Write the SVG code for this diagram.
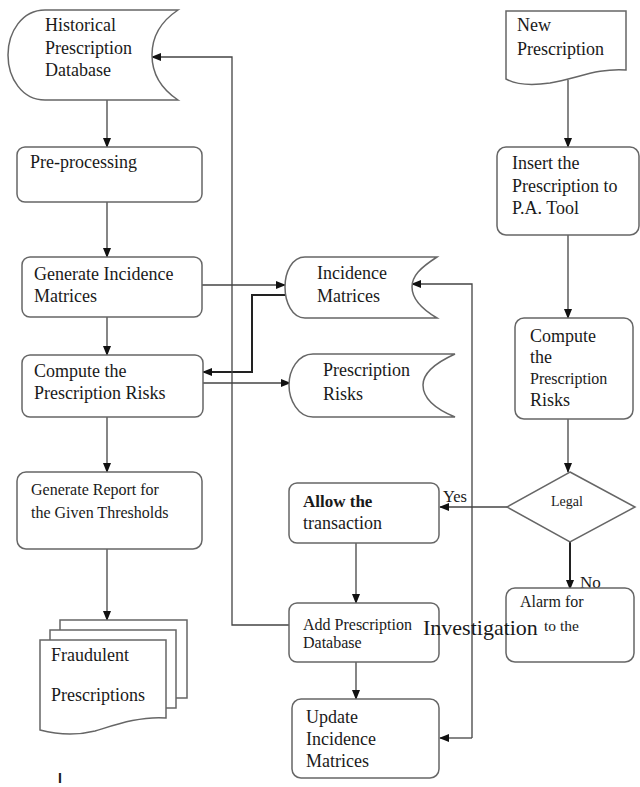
<svg xmlns="http://www.w3.org/2000/svg" width="640" height="787" viewBox="0 0 640 787">
<defs>
<marker id="ah" markerWidth="10" markerHeight="8" refX="9" refY="4" orient="auto" markerUnits="userSpaceOnUse">
<path d="M0,0 L10,4 L0,8 Z" fill="#111"/>
</marker>
<style>
.box{fill:#fff;stroke:#666;stroke-width:1.5}
.ln{fill:none;stroke:#444;stroke-width:1.3}
.lb{fill:none;stroke:#222;stroke-width:2}
text{font-family:"Liberation Serif","Times New Roman",serif;font-size:18px;fill:#1a1a1a}
.m{font-size:16px}
.s{font-size:14px}
</style>
</defs>
<rect width="640" height="787" fill="#fff"/>

<g id="connectors">
<path class="ln" d="M107,100 V147" marker-end="url(#ah)"/>
<path class="ln" d="M107,202 V257" marker-end="url(#ah)"/>
<path class="ln" d="M107,317 V355" marker-end="url(#ah)"/>
<path class="ln" d="M107,417 V472" marker-end="url(#ah)"/>
<path class="ln" d="M107,549 V620" marker-end="url(#ah)"/>
<path class="ln" d="M202,285 H285" marker-end="url(#ah)"/>
<path class="lb" d="M285,295 H252 V372 H203" marker-end="url(#ah)"/>
<path class="ln" d="M203,383 H290" marker-end="url(#ah)"/>
<path class="ln" d="M289,625 H232 V57 H152" marker-end="url(#ah)"/>
<path class="ln" d="M568,80 V147" marker-end="url(#ah)"/>
<path class="ln" d="M568,235 V318" marker-end="url(#ah)"/>
<path class="ln" d="M568,419 V472" marker-end="url(#ah)"/>
<path class="ln" d="M507,507 H440" marker-end="url(#ah)"/>
<path class="lb" d="M570,542 V589" marker-end="url(#ah)"/>
<path class="ln" d="M356,543 V603" marker-end="url(#ah)"/>
<path class="ln" d="M356,662 V699" marker-end="url(#ah)"/>
<path class="ln" d="M472,738 V284 H412" marker-end="url(#ah)"/>
<path class="ln" d="M472,738 H440" marker-end="url(#ah)"/>
</g>

<g id="historical-db">
<path class="box" d="M45,10 L178,10 C160,22 152,38 152,55 C152,72 160,88 178,100 L45,100 C22,100 8,78 8,55 C8,32 22,10 45,10 Z"/>
<text x="45" y="31">Historical</text>
<text x="45" y="54">Prescription</text>
<text x="45" y="76">Database</text>
</g>

<g id="preprocessing">
<rect class="box" x="17" y="147" width="185" height="55" rx="8"/>
<text x="30" y="168">Pre-processing</text>
</g>

<g id="gen-incidence">
<rect class="box" x="22" y="257" width="180" height="60" rx="8"/>
<text x="34" y="280">Generate Incidence</text>
<text x="34" y="302">Matrices</text>
</g>

<g id="compute-risks-left">
<rect class="box" x="22" y="355" width="181" height="62" rx="8"/>
<text x="34" y="377">Compute the</text>
<text x="34" y="399">Prescription Risks</text>
</g>

<g id="gen-report">
<rect class="box" x="17" y="472" width="185" height="77" rx="9"/>
<text class="m" x="31" y="495">Generate Report  for</text>
<text class="m" x="31" y="518">the Given  Thresholds</text>
</g>

<g id="fraudulent">
<path class="box" d="M60,630 V620 H187 V698 H176"/>
<path class="box" d="M50,640 V630 H176 V708 H166"/>
<path class="box" d="M40,640 H166 V718 C140,716 115,725 95,731 C75,736 55,734 40,730 Z"/>
<text x="51" y="661">Fraudulent</text>
<text x="51" y="701">Prescriptions</text>
</g>

<g id="cursor-mark">
<text x="58" y="783" style="font-family:'Liberation Sans',Arial,sans-serif;font-weight:bold;font-size:14px">I</text>
</g>

<g id="incidence-matrices">
<path class="box" d="M305,257 L437,257 C420,268 412,276 412,287 C412,298 420,308 437,318 L305,318 C292,318 285,302 285,287 C285,272 292,257 305,257 Z"/>
<text x="317" y="279">Incidence</text>
<text x="317" y="302">Matrices</text>
</g>

<g id="prescription-risks">
<path class="box" d="M313,354 L455,354 C433,364 423,374 423,385 C423,397 433,408 455,417 L313,417 C298,417 289,400 289,385 C289,370 298,354 313,354 Z"/>
<text x="323" y="376">Prescription</text>
<text x="323" y="400">Risks</text>
</g>

<g id="new-prescription">
<path class="box" d="M506,11 H626 V70 C598,68 578,78 550,83 C530,86 515,84 506,79 Z"/>
<text x="517" y="31">New</text>
<text x="517" y="55">Prescription</text>
</g>

<g id="insert">
<rect class="box" x="497" y="147" width="142" height="88" rx="9"/>
<text x="512" y="169">Insert the</text>
<text x="512" y="192">Prescription to</text>
<text x="512" y="214">P.A. Tool</text>
</g>

<g id="compute-risks-right">
<rect class="box" x="515" y="318" width="118" height="101" rx="9"/>
<text x="530" y="342">Compute</text>
<text x="530" y="363">the</text>
<text class="m" x="530" y="384">Prescription</text>
<text x="530" y="406">Risks</text>
</g>

<g id="legal">
<path class="box" d="M570,472 L635,507 L570,542 L507,507 Z"/>
<text class="s" x="567" y="506" text-anchor="middle">Legal</text>
</g>

<text style="font-size:16.5px" x="443" y="502">Yes</text>
<text style="font-size:17px" x="580" y="588">No</text>

<g id="allow">
<rect class="box" x="289" y="483" width="150" height="60" rx="8"/>
<text style="font-size:17px" x="303" y="507" font-weight="bold">Allow the</text>
<text x="303" y="529">transaction</text>
</g>

<g id="add-db">
<rect class="box" x="289" y="603" width="150" height="59" rx="8"/>
<text class="m" x="303" y="630">Add Prescription</text>
<text class="m" x="303" y="648">Database</text>
</g>

<g id="update">
<rect class="box" x="292" y="699" width="147" height="79" rx="9"/>
<text x="306" y="723">Update</text>
<text x="306" y="745">Incidence</text>
<text x="306" y="767">Matrices</text>
</g>

<g id="alarm">
<rect class="box" x="506" y="588" width="128" height="74" rx="9"/>
<text class="m" x="520" y="607">Alarm  for</text>
<text style="font-size:15.5px" x="544" y="631">to the</text>
</g>

<text x="423" y="635" style="font-size:22px">Investigation</text>
</svg>
